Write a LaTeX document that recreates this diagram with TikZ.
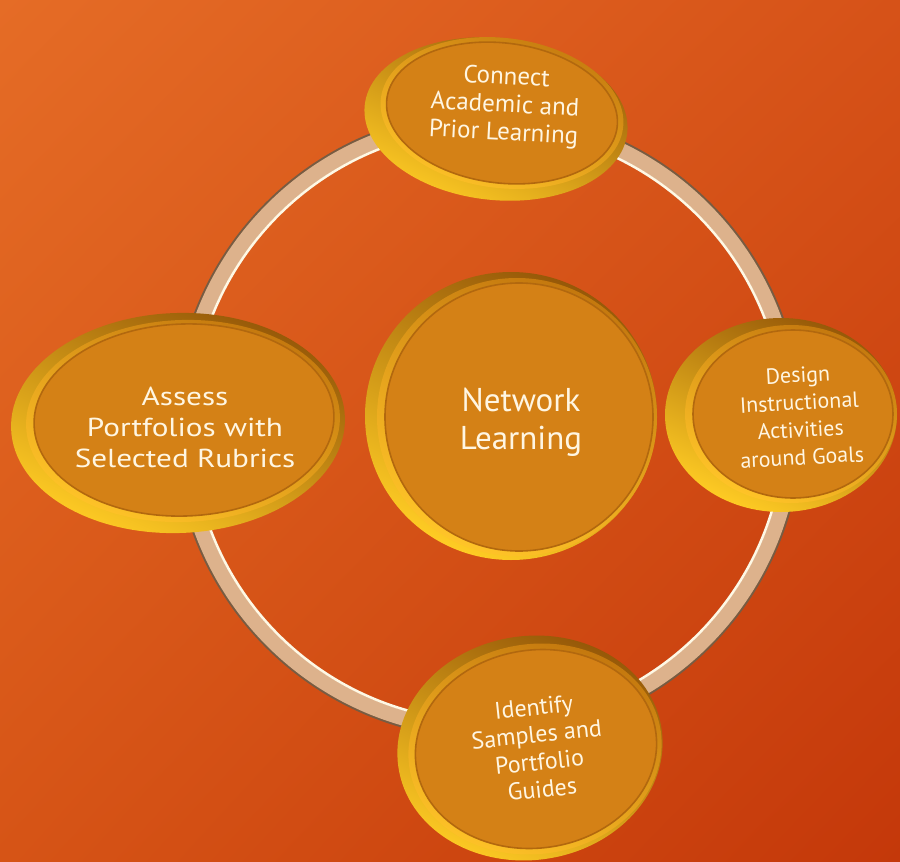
\documentclass[tikz,border=0pt]{standalone}
\usepackage{fontspec}
\usetikzlibrary{shadings}
\setmainfont{PT Sans}
\newfontfamily\widefont[FakeStretch=1.2]{PT Sans}
\definecolor{bgtopleft}{RGB}{229, 108, 38}
\definecolor{bgtopright}{RGB}{214, 82, 24}
\definecolor{bgbotleft}{RGB}{214, 84, 22}
\definecolor{bgbotright}{RGB}{196, 56, 10}
\definecolor{ringtan}{RGB}{221, 178, 140}
\definecolor{ringedge}{RGB}{120, 92, 66}
\definecolor{ringshine}{RGB}{255, 248, 228}
\definecolor{golddark}{RGB}{150, 88, 8}
\definecolor{goldbright}{RGB}{255, 204, 36}
\definecolor{rimdark}{RGB}{196, 120, 14}
\definecolor{rimbright}{RGB}{255, 196, 40}
\definecolor{faceorange}{RGB}{212, 129, 22}
\definecolor{faceedge}{RGB}{178, 104, 14}
\definecolor{cream}{RGB}{255, 246, 226}

\tikzset{
  coin/.style={top color=golddark, bottom color=goldbright, shading angle=-25},
  rim/.style={top color=rimdark, bottom color=rimbright, shading angle=-25},
  face/.style={fill=faceorange, draw=faceedge, line width=1.6pt},
  disctext/.style={text=cream, align=center, inner sep=0pt}
}

\begin{document}
\begin{tikzpicture}[x=1pt, y=-1pt]
            \useasboundingbox (0,0) rectangle (900,862);
            \shade[upper left=bgtopleft, upper right=bgtopright,
                   lower left=bgbotleft, lower right=bgbotright]       (0,0) rectangle (900,862);
            \draw[ringedge,  line width=19pt]                              (488,425) circle (305);
            \draw[ringtan,   line width=15pt]                              (488,425) circle (305);
            \draw[ringshine, line width=2.5pt]                             (488,425) circle (296.5);
            % top
            \shade[coin, rotate around={-6:(496,119)}]                    (496,119) ellipse (132 and 81);
            \shade[rim,  rotate around={-7:(502,113)}]                    (502,113) ellipse (122 and 75);
            \filldraw[face, rotate around={-7:(502,113)}]                 (502,113) ellipse (116 and 70);
            % right
            \shade[coin]                                                  (781,415) ellipse (116 and 97);
            \shade[rim]                                                   (791,414) ellipse (106 and 89);
            \filldraw[face]                                               (793,414) ellipse (100 and 84);
            % centre
            \shade[coin]                                                  (511,416) ellipse (146 and 144);
            \shade[rim]                                                   (517,417) ellipse (140 and 139);
            \filldraw[face]                                               (519,417) ellipse (134 and 134);
            % left
            \shade[coin, rotate around={2:(178,423)}]                     (178,423) ellipse (167 and 110);
            \shade[rim,  rotate around={2:(183,421)}]                     (183,421) ellipse (157 and 101);
            \filldraw[face, rotate around={2:(184,420)}]                  (184,420) ellipse (150 and 96);
            % bottom
            \shade[coin, rotate around={8:(530,748)}]                     (530,748) ellipse (133 and 112);
            \shade[rim,  rotate around={8:(535,749)}]                     (535,749) ellipse (127 and 105);
            \filldraw[face, rotate around={8:(536,749)}]                  (536,749) ellipse (121 and 99);

            \node[disctext, rotate=-3, font=\fontsize{25}{28}\selectfont]  (connect)  at (505,106) {Connect\\Academic and\\Prior Learning};
            \node[disctext, rotate=3,  font=\fontsize{22}{27.5}\selectfont](design)   at (800,416) {Design\\Instructional\\Activities\\around Goals};
            \node[disctext, font=\widefont\fontsize{26}{31}\selectfont]    (assess)   at (185,427) {Assess\\Portfolios with\\Selected Rubrics};
            \node[disctext, font=\fontsize{33}{38}\selectfont]             (network)  at (521,422) {Network\\Learning};
            \node[disctext, rotate=6,  font=\fontsize{24}{27.5}\selectfont](identify) at (538,748) {Identify\\Samples and\\Portfolio\\Guides};
\end{tikzpicture}
\end{document}
